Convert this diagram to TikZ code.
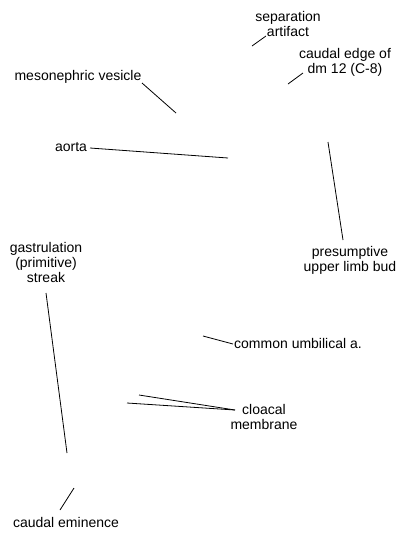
\documentclass[tikz,border=0pt]{standalone}
\usepackage{fontspec}
\setmainfont{Liberation Sans}
\begin{document}
\begin{tikzpicture}[x=1pt,y=-1pt,
  lbl/.style={inner sep=0pt,align=center,font=\fontsize{14}{15}\selectfont},
  lead/.style={draw=black,line width=0.8pt}]
\useasboundingbox (0,0) rectangle (400,550);
% labels
\node[lbl] (sep) at (288,24) {separation\\artifact};
\node[lbl] (cde) at (345,62) {caudal edge of\\dm 12 (C-8)};
\node[lbl] (meso) at (78,77) {mesonephric vesicle};
\node[lbl] (aorta) at (71,147) {aorta};
\node[lbl] (gast) at (46,262) {gastrulation\\(primitive)\\streak};
\node[lbl] (plb) at (350,260) {presumptive\\upper limb bud};
\node[lbl] (cua) at (298,343) {common umbilical a.};
\node[lbl] (clo) at (264,417) {cloacal\\membrane};
\node[lbl] (ce) at (66,522) {caudal eminence};
% leader ends
\coordinate (sep-a) at (266,36);
\coordinate (sep-b) at (252,46);
\coordinate (cde-a) at (303,73);
\coordinate (cde-b) at (288,84);
\coordinate (meso-a) at (142,83);
\coordinate (meso-b) at (176,113);
\coordinate (aorta-a) at (90,148);
\coordinate (aorta-b) at (228,158);
\coordinate (gast-a) at (46,293);
\coordinate (gast-b) at (67,453);
\coordinate (plb-a) at (343,240);
\coordinate (plb-b) at (328,142);
\coordinate (cua-a) at (233,344);
\coordinate (cua-b) at (203,336);
\coordinate (clo-a) at (235,410);
\coordinate (clo-b) at (139,395);
\coordinate (clo-c) at (127,403);
\coordinate (ce-a) at (60,510);
\coordinate (ce-b) at (74,488);
% leaders
\draw[lead] (sep-a) -- (sep-b);
\draw[lead] (cde-a) -- (cde-b);
\draw[lead] (meso-a) -- (meso-b);
\draw[lead] (aorta-a) -- (aorta-b);
\draw[lead] (gast-a) -- (gast-b);
\draw[lead] (plb-a) -- (plb-b);
\draw[lead] (cua-a) -- (cua-b);
\draw[lead] (clo-a) -- (clo-b);
\draw[lead] (clo-a) -- (clo-c);
\draw[lead] (ce-a) -- (ce-b);
\end{tikzpicture}
\end{document}
